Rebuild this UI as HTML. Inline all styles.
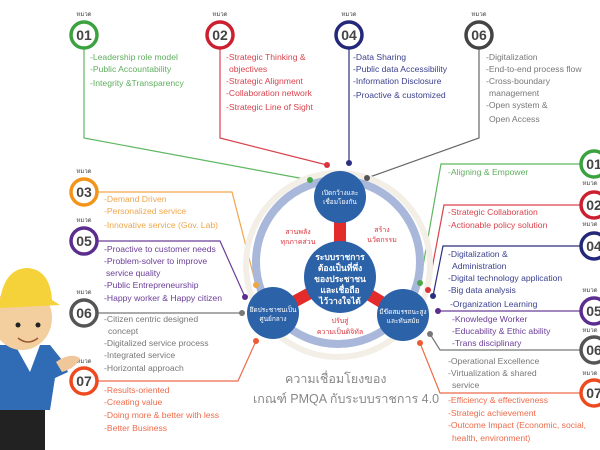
<!DOCTYPE html>
<html><head><meta charset="utf-8"><style>
html,body{margin:0;padding:0;background:#fff;}
svg{display:block;font-family:"Liberation Sans","Noto Sans CJK SC",sans-serif;}
.t{font-size:8.6px;}
.h{font-size:6px;fill:#444;}
.n{font-size:14px;font-weight:bold;fill:#444;}
</style></head><body>
<svg width="600" height="450" viewBox="0 0 600 450" xmlns="http://www.w3.org/2000/svg">
<rect width="600" height="450" fill="#fff"/>
<g fill="none" stroke-width="1.2">
<polyline points="84,48 84,138 310,180" stroke="#5fb760"/>
<polyline points="220,48 220,138 327,165" stroke="#d9434d"/>
<polyline points="349,48 349,163" stroke="#2b2f7e"/>
<polyline points="479,48 479,138 367,178" stroke="#666"/>
<polyline points="97,192 232,192 256,285" stroke="#f0a64a"/>
<polyline points="97,241 220,241 245,297" stroke="#6a3d98"/>
<polyline points="97,313 242,313" stroke="#777"/>
<polyline points="97,381 238,381 256,341" stroke="#ee6b4a"/>
<polyline points="420,283 441,164 580,164" stroke="#5fb760"/>
<polyline points="428,290 444,205 580,205" stroke="#d9434d"/>
<polyline points="433,296 443,246 580,246" stroke="#2b2f7e"/>
<polyline points="438,311 580,311" stroke="#6a3d98"/>
<polyline points="430,334 440,350 580,350" stroke="#777"/>
<polyline points="420,343 440,393 580,393" stroke="#ee6b4a"/>
</g>
<circle cx="338" cy="265" r="92" fill="none" stroke="#f3efe6" stroke-width="6"/>
<circle cx="338" cy="262" r="82" fill="none" stroke="#a9b8da" stroke-width="8"/>
<g stroke="#e32b2b" stroke-width="12">
<line x1="340" y1="277" x2="340" y2="197"/>
<line x1="340" y1="277" x2="273" y2="313"/>
<line x1="340" y1="277" x2="403" y2="315"/>
</g>
<g fill="#2b62a8">
<circle cx="340" cy="277" r="36"/>
<circle cx="340" cy="197" r="26"/>
<circle cx="273" cy="313" r="26"/>
<circle cx="403" cy="315" r="26"/>
</g>
<g fill="#fff" font-size="6.5" text-anchor="middle">
<text x="340" y="195">เปิดกว้างและ</text><text x="340" y="204">เชื่อมโยงกัน</text>
<text x="273" y="312">ยึดประชาชนเป็น</text><text x="273" y="321">ศูนย์กลาง</text>
<text x="403" y="314">มีขีดสมรรถนะสูง</text><text x="403" y="323">และทันสมัย</text>
<g font-size="8.5" font-weight="bold">
<text x="340" y="260">ระบบราชการ</text><text x="340" y="271">ต้องเป็นที่พึ่ง</text><text x="340" y="282">ของประชาชน</text><text x="340" y="293">และเชื่อถือ</text><text x="340" y="304">ไว้วางใจได้</text>
</g></g>
<g fill="#d9343d" font-size="7" text-anchor="middle">
<text x="298" y="234">สานพลัง</text><text x="298" y="244">ทุกภาคส่วน</text>
<text x="382" y="232">สร้าง</text><text x="382" y="242">นวัตกรรม</text>
<text x="340" y="323">ปรับสู่</text><text x="340" y="334">ความเป็นดิจิทัล</text>
</g>
<g fill="#888" font-size="12.5"><text x="285" y="383">ความเชื่อมโยงของ</text><text x="253" y="403">เกณฑ์ PMQA กับระบบราชการ 4.0</text></g>
<g>
<circle cx="310" cy="180" r="3" fill="#4aa84c"/><circle cx="327" cy="165" r="3" fill="#d9343d"/>
<circle cx="349" cy="163" r="3" fill="#2b2f7e"/><circle cx="367" cy="178" r="3" fill="#555"/>
<circle cx="256" cy="285" r="3" fill="#f0a640"/><circle cx="245" cy="297" r="3" fill="#5b2d8e"/>
<circle cx="242" cy="313" r="3" fill="#777"/><circle cx="256" cy="341" r="3" fill="#ee5a35"/>
<circle cx="420" cy="283" r="3" fill="#4aa84c"/><circle cx="428" cy="290" r="3" fill="#d9343d"/>
<circle cx="433" cy="296" r="3" fill="#2b2f7e"/><circle cx="438" cy="311" r="3" fill="#5b2d8e"/>
<circle cx="430" cy="334" r="3" fill="#777"/><circle cx="420" cy="343" r="3" fill="#ee5a35"/>
</g>
<g stroke-width="3.5" fill="#fff">
<circle cx="84" cy="35" r="13" stroke="#3aa23e"/>
<circle cx="220" cy="35" r="13" stroke="#cc2030"/>
<circle cx="349" cy="35" r="13" stroke="#23287a"/>
<circle cx="479" cy="35" r="13" stroke="#444"/>
<circle cx="84" cy="192" r="13" stroke="#f29418"/>
<circle cx="84" cy="241" r="13" stroke="#5b2d8e"/>
<circle cx="84" cy="313" r="13" stroke="#555"/>
<circle cx="84" cy="381" r="13" stroke="#ee4a20"/>
<circle cx="594" cy="164" r="13" stroke="#3aa23e"/>
<circle cx="594" cy="205" r="13" stroke="#cc2030"/>
<circle cx="594" cy="246" r="13" stroke="#23287a"/>
<circle cx="594" cy="311" r="13" stroke="#5b2d8e"/>
<circle cx="594" cy="350" r="13" stroke="#555"/>
<circle cx="594" cy="393" r="13" stroke="#ee4a20"/>
</g>
<g class="n" text-anchor="middle">
<text x="84" y="40">01</text><text x="220" y="40">02</text><text x="349" y="40">04</text><text x="479" y="40">06</text>
<text x="84" y="197">03</text><text x="84" y="246">05</text><text x="84" y="318">06</text><text x="84" y="386">07</text>
<text x="594" y="169">01</text><text x="594" y="210">02</text><text x="594" y="251">04</text><text x="594" y="316">05</text><text x="594" y="355">06</text><text x="594" y="398">07</text>
</g>
<g class="h" text-anchor="middle">
<text x="84" y="16">หมวด</text><text x="220" y="16">หมวด</text><text x="349" y="16">หมวด</text><text x="479" y="16">หมวด</text>
<text x="84" y="173">หมวด</text><text x="84" y="222">หมวด</text><text x="84" y="294">หมวด</text><text x="84" y="363">หมวด</text>
<text x="590" y="185">หมวด</text><text x="590" y="226">หมวด</text><text x="590" y="292">หมวด</text><text x="590" y="332">หมวด</text><text x="590" y="375">หมวด</text>
</g>
<g class="t" fill="#5fae5f"><text x="90" y="60">-Leadership role model</text><text x="90" y="72">-Public Accountability</text><text x="90" y="86">-Integrity &amp;Transparency</text></g>
<g class="t" fill="#d9434d"><text x="226" y="60">-Strategic Thinking &amp;</text><text x="229" y="72">objectives</text><text x="226" y="84">-Strategic Alignment</text><text x="226" y="96">-Collaboration network</text><text x="226" y="110">-Strategic Line of Sight</text></g>
<g class="t" fill="#3a3f8e"><text x="353" y="60">-Data Sharing</text><text x="353" y="72">-Public data Accessibility</text><text x="353" y="84">-Information Disclosure</text><text x="353" y="98">-Proactive &amp; customized</text></g>
<g class="t" fill="#777"><text x="486" y="60">-Digitalization</text><text x="486" y="72">-End-to-end process flow</text><text x="486" y="84">-Cross-boundary</text><text x="489" y="96">management</text><text x="486" y="108">-Open system &amp;</text><text x="489" y="122">Open Access</text></g>
<g class="t" fill="#f0a64a"><text x="104" y="202">-Demand Driven</text><text x="104" y="214">-Personalized service</text><text x="104" y="228">-Innovative service (Gov. Lab)</text></g>
<g class="t" fill="#6a3d98"><text x="104" y="252">-Proactive to customer needs</text><text x="104" y="264">-Problem-solver to improve</text><text x="106" y="276">service quality</text><text x="104" y="288">-Public Entrepreneurship</text><text x="104" y="301">-Happy worker &amp; Happy citizen</text></g>
<g class="t" fill="#777"><text x="104" y="322">-Citizen centric designed</text><text x="108" y="334">concept</text><text x="104" y="346">-Digitalized service process</text><text x="104" y="358">-Integrated service</text><text x="104" y="371">-Horizontal approach</text></g>
<g class="t" fill="#ee6b4a"><text x="104" y="393">-Results-oriented</text><text x="104" y="405">-Creating value</text><text x="104" y="418">-Doing more &amp; better with less</text><text x="104" y="431">-Better Business</text></g>
<g class="t" fill="#5fae5f"><text x="448" y="175">-Aligning &amp; Empower</text></g>
<g class="t" fill="#d9434d"><text x="448" y="215">-Strategic Collaboration</text><text x="448" y="228">-Actionable policy solution</text></g>
<g class="t" fill="#3a3f8e"><text x="448" y="257">-Digitalization &amp;</text><text x="452" y="269">Administration</text><text x="448" y="281">-Digital technology application</text><text x="448" y="293">-Big data analysis</text><text x="450" y="307">-Organization Learning</text></g>
<g class="t" fill="#6a3d98"><text x="452" y="322">-Knowledge Worker</text><text x="452" y="334">-Educability &amp; Ethic ability</text><text x="452" y="346">-Trans disciplinary</text></g>
<g class="t" fill="#777"><text x="448" y="364">-Operational Excellence</text><text x="448" y="376">-Virtualization &amp; shared</text><text x="452" y="388">service</text></g>
<g class="t" fill="#ee6b4a"><text x="448" y="403">-Efficiency &amp; effectiveness</text><text x="448" y="416">-Strategic achievement</text><text x="448" y="428">-Outcome Impact (Economic, social,</text><text x="452" y="441">health, environment)</text></g>
<g>
<rect x="0" y="405" width="45" height="45" fill="#222"/>
<path d="M0,345 L50,345 L62,360 L68,372 L55,378 L50,410 L0,410Z" fill="#2f6cb5"/>
<path d="M15,345 L30,372 L40,345Z" fill="#fff"/>
<path d="M56,362 Q70,352 80,358 Q76,368 62,372Z" fill="#f0c79a"/>
<ellipse cx="22" cy="318" rx="30" ry="32" fill="#f3cf9f"/>
<path d="M0,300 Q5,268 28,268 Q50,270 52,300 L60,305 L0,308Z" fill="#f5d23a"/>
<circle cx="18" cy="325" r="2.5" fill="#222"/><circle cx="38" cy="325" r="2.5" fill="#222"/>
<path d="M18,338 Q28,346 38,338" stroke="#9a5a30" stroke-width="1.5" fill="none"/>
</g>
</svg>
</body></html>
